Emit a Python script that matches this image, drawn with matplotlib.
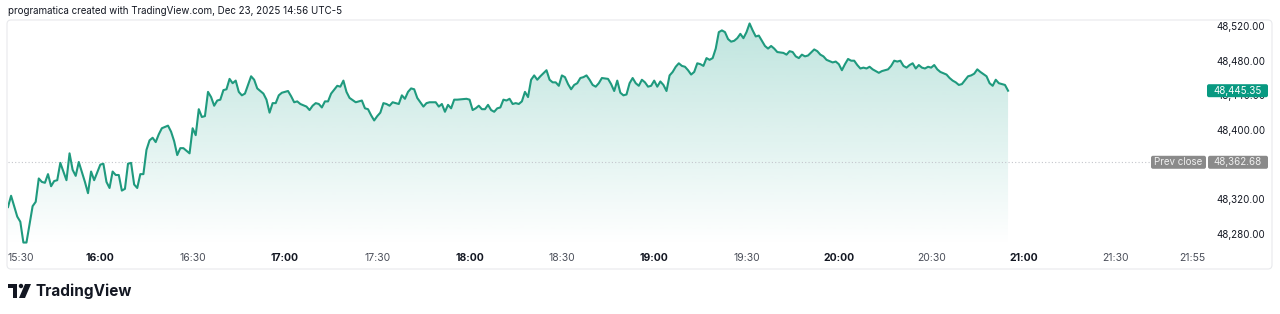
import matplotlib
matplotlib.use("Agg")
import matplotlib.pyplot as plt
import matplotlib.patches as patches
from matplotlib.colors import to_rgb
import numpy as np

# index value, minutes after 15:30
minutes = [
    0, 1, 3, 4, 5, 6, 8, 9, 10, 11, 12, 13, 14, 15, 16, 17, 19, 20, 21, 22, 23, 25, 26, 27, 28,
    30, 31, 32, 33, 34, 35, 36, 37, 38, 39, 40, 41, 42, 43, 44, 45, 46, 47, 48, 49, 50, 52, 53,
    54, 55, 56, 57, 59, 60, 61, 62, 63, 64,
    65, 66, 67, 68, 69, 70, 71, 72, 73, 74, 75, 76, 77, 79, 80, 81, 83, 84, 85, 86, 87, 88, 89,
    91, 92, 93, 94, 95, 97, 98, 99, 100, 101, 102, 103, 104, 105, 107, 108, 109, 110, 111, 113,
    115, 116, 117, 118, 119, 120, 121, 122, 123, 124, 125, 126, 127,
    128, 129, 130, 131, 132, 133, 135, 136, 137, 139, 140, 141, 142, 143, 144, 145, 146, 149,
    150, 151, 152, 153, 154, 155, 156, 157, 158, 159, 160, 161, 162, 163, 164, 165, 166, 167,
    168, 169, 170, 171, 172, 173, 175, 176, 177, 178, 179, 180, 181, 182, 183, 184, 185, 186,
    187, 188, 189, 190, 191, 192,
    193, 195, 196, 197, 198, 199, 200, 201, 202, 203, 204, 205, 206, 207, 208, 209, 210, 211,
    212, 213, 214, 215, 216, 217, 218, 219, 220, 221, 222, 223, 224, 225, 226, 227, 228, 229,
    230, 231, 232, 233, 234, 235, 236, 237, 238, 239, 240, 241, 242, 243, 244, 245, 246, 247,
    248, 249, 250, 252, 253, 254, 255, 256, 257, 258,
    259, 260, 262, 263, 264, 265, 266, 268, 269, 270, 271, 272, 273, 274, 275, 276, 277, 278,
    279, 280, 281, 283, 284, 286, 287, 288, 289, 290, 291, 292, 293, 294, 295, 296, 297, 298,
    299, 300, 301, 302, 303, 305, 306, 307, 308, 309, 310, 312, 313, 314, 315, 316, 318, 319,
    320, 321, 322, 324, 325,
]
prices = [
    48311, 48324, 48300, 48294, 48270, 48270, 48312, 48317, 48344, 48340, 48339, 48349, 48335,
    48341, 48342, 48362, 48342, 48373, 48354, 48347, 48363, 48340, 48327, 48352, 48342, 48360,
    48361, 48340, 48333, 48352, 48348, 48348, 48330, 48332, 48361, 48362, 48337, 48333, 48349,
    48349, 48377, 48388, 48391, 48386, 48395, 48402, 48405, 48398, 48387, 48371, 48379, 48379,
    48373, 48402, 48394, 48424, 48415, 48416,
    48444, 48438, 48428, 48434, 48435, 48446, 48447, 48459, 48454, 48457, 48444, 48440, 48442,
    48462, 48458, 48448, 48442, 48435, 48420, 48431, 48431, 48440, 48443, 48445, 48439, 48432,
    48433, 48430, 48427, 48423, 48428, 48431, 48430, 48426, 48433, 48433, 48442, 48451, 48450,
    48457, 48444, 48437, 48432, 48434, 48425, 48424, 48417, 48411, 48416, 48420, 48431, 48430,
    48428, 48432, 48431, 48430,
    48440, 48436, 48444, 48448, 48447, 48437, 48427, 48431, 48432, 48432, 48427, 48430, 48421,
    48429, 48425, 48435, 48435, 48436, 48435, 48423, 48425, 48428, 48424, 48424, 48429, 48423,
    48421, 48425, 48426, 48435, 48434, 48436, 48430, 48431, 48430, 48433, 48444, 48438, 48458,
    48463, 48458, 48462, 48469, 48458, 48455, 48455, 48451, 48463, 48461, 48453, 48447, 48452,
    48454, 48460, 48461, 48463, 48458, 48452, 48450, 48454,
    48460, 48459, 48453, 48445, 48457, 48443, 48440, 48441, 48454, 48460, 48454, 48451, 48458,
    48455, 48450, 48451, 48457, 48450, 48456, 48452, 48445, 48463, 48467, 48473, 48477, 48474,
    48473, 48469, 48464, 48467, 48477, 48476, 48474, 48483, 48481, 48483, 48494, 48513, 48515,
    48513, 48505, 48502, 48503, 48506, 48511, 48506, 48513, 48523, 48515, 48508, 48509, 48503,
    48497, 48494, 48497, 48494, 48490, 48489, 48487, 48491, 48490, 48485, 48483, 48487,
    48485, 48486, 48493, 48491, 48487, 48485, 48481, 48478, 48479, 48476, 48469, 48476, 48482,
    48480, 48480, 48475, 48471, 48472, 48471, 48473, 48470, 48466, 48468, 48470, 48474, 48480,
    48479, 48480, 48474, 48472, 48475, 48477, 48471, 48475, 48472, 48471, 48473, 48472, 48475,
    48470, 48467, 48464, 48460, 48457, 48455, 48452, 48453, 48462, 48463, 48465, 48470, 48467,
    48462, 48454, 48451, 48458, 48454, 48452, 48445.35,
]
assert len(minutes) == len(prices)

prev_close = 48362.68
last_price = 48445.35

# 48,360 sits fully under the "Prev close" badge in the original, so it is left out
price_ticks = [48280, 48320, 48400, 48440, 48480, 48520]
time_ticks = [0, 30, 60, 90, 120, 150, 180, 210, 240, 270, 300, 330, 360, 385]
time_labels = ["15:30", "16:00", "16:30", "17:00", "17:30", "18:00", "18:30",
               "19:00", "19:30", "20:00", "20:30", "21:00", "21:30", "21:55"]
header = "programatica created with TradingView.com, Dec 23, 2025 14:56 UTC-5"

GREEN = "#089981"
LINE = "#1f9a7e"
TEXT = "#131722"
GREY_BADGE = "#8a8a8a"

plt.rcParams["font.family"] = ["Inter", "DejaVu Sans"]

W, H = 1280, 314
fig = plt.figure(figsize=(W / 100, H / 100), dpi=100)
fig.patch.set_facecolor("white")

# plot pane in pixel units: x 8..1197, y 20..246 (from top)
ax = fig.add_axes([8 / W, 1 - 246 / H, (1197 - 8) / W, (246 - 20) / H])
ax.set_facecolor("none")
for s in ax.spines.values():
    s.set_visible(False)

x = np.array(minutes, dtype=float)
y = np.array(prices, dtype=float)

ymin, ymax = 48266, 48527
xmax = 386.4

# gradient area under the line
poly = ax.fill_between(x, y, ymin, facecolor="none", edgecolor="none")
n = 256
rgba = np.zeros((n, 1, 4))
rgba[..., :3] = to_rgb(GREEN)
rgba[..., 3] = np.linspace(0.26, 0.0, n)[:, None]
im = ax.imshow(rgba, extent=[x[0], x[-1], ymin, y.max()], origin="upper",
               aspect="auto", zorder=1, interpolation="bilinear")
im.set_clip_path(poly.get_paths()[0], transform=ax.transData)

ax.plot(x, y, color=LINE, lw=1.5, solid_joinstyle="round", zorder=3)

# previous close dotted line
ax.axhline(prev_close, xmin=0, xmax=(1150 - 8) / (1197 - 8), color="#c4c6cc",
           lw=0.8, ls=(0, (1, 2)), zorder=2)

ax.set_xlim(0, xmax)
ax.set_ylim(ymin, ymax)

# price axis on the right
ax.yaxis.tick_right()
ax.set_yticks(price_ticks)
ax.set_yticklabels([f"{v:,.2f}" for v in price_ticks])
ax.tick_params(axis="y", length=0, pad=14, labelsize=7, labelcolor=TEXT)

# time axis
ax.set_xticks(time_ticks)
ax.set_xticklabels(time_labels)
ax.tick_params(axis="x", length=0, pad=5, labelsize=7.5, labelcolor="#4a4e59")
for lab in ax.get_xticklabels():
    if lab.get_text().endswith(":00"):
        lab.set_fontweight("bold")
        lab.set_color(TEXT)
ax.get_xticklabels()[0].set_horizontalalignment("left")

fig.canvas.draw()


def badge(x0, width, value, color, label, txtcolor="white"):
    ypix = ax.transData.transform((0, value))[1]
    rect = patches.FancyBboxPatch((x0, ypix - 6.5), width, 13,
                                  boxstyle="round,pad=0,rounding_size=2",
                                  fc=color, ec="none", transform=None, zorder=10)
    fig.add_artist(rect)
    fig.text((x0 + width / 2) / W, ypix / H, label, ha="center", va="center",
             color=txtcolor, fontsize=7, zorder=11)


badge(1207, 61, last_price, GREEN, f"{last_price:,.2f}")
badge(1151, 55, prev_close, GREY_BADGE, "Prev close", "#f0f0f0")
badge(1208, 60, prev_close, GREY_BADGE, f"{prev_close:,.2f}", "#f0f0f0")

# chart frame
frame = patches.FancyBboxPatch((7, H - 269), 1265, 249,
                               boxstyle="round,pad=0,rounding_size=4",
                               fc="none", ec="#e8e9ec", lw=0.8, transform=None, zorder=0)
fig.add_artist(frame)

# header
fig.text(8 / W, 1 - 11 / H, header, ha="left", va="center", fontsize=7, color=TEXT)

# TradingView logo
logo = [
    patches.Rectangle((8, H - 288), 9, 4),
    patches.Rectangle((13, H - 298), 4, 14),
    patches.Circle((21, H - 286), 2.2),
    patches.Polygon([(25, H - 284), (31, H - 284), (25, H - 298), (19, H - 298)]),
]
for p in logo:
    p.set_transform(None)
    p.set_facecolor(TEXT)
    p.set_edgecolor("none")
    fig.add_artist(p)
fig.text(35 / W, 1 - 291 / H, "TradingView", ha="left", va="center",
         fontsize=11, fontweight="bold", color=TEXT)

fig.savefig("out.png", dpi=100)
